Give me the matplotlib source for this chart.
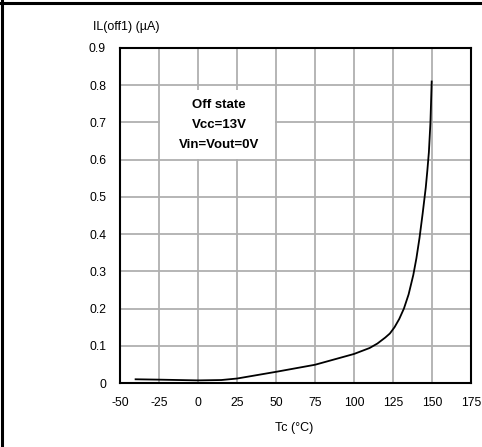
import matplotlib
matplotlib.use("Agg")
import matplotlib.pyplot as plt
from matplotlib.patches import Rectangle
from matplotlib.lines import Line2D

plt.rcParams['font.family'] = ['Liberation Sans', 'DejaVu Sans']
plt.rcParams['axes.unicode_minus'] = False

tc = [-40, -25, 0, 15, 25, 50, 75, 100, 110, 115, 120, 123, 126, 129, 132, 135, 138,
      140, 142, 144, 146, 147, 148, 149, 149.8]
il = [0.010, 0.009, 0.007, 0.008, 0.012, 0.030, 0.049, 0.078, 0.094, 0.106, 0.122, 0.133,
      0.150, 0.172, 0.200, 0.238, 0.290, 0.335, 0.390, 0.455, 0.525, 0.570, 0.620, 0.700, 0.810]
xticks = [-50, -25, 0, 25, 50, 75, 100, 125, 150, 175]
yticks = [0, 0.1, 0.2, 0.3, 0.4, 0.5, 0.6, 0.7, 0.8, 0.9]
ytick_labels = ["0", "0.1", "0.2", "0.3", "0.4", "0.5", "0.6", "0.7", "0.8", "0.9"]
annot = ["Off state", "Vcc=13V", "Vin=Vout=0V"]

W, H = 482, 447
fig = plt.figure(figsize=(W / 100, H / 100), dpi=100)
ax = fig.add_axes([120 / W, 1 - 383 / H, 351 / W, 335 / H])

ax.set_xlim(-50, 175)
ax.set_ylim(0, 0.9)
ax.set_xticks(xticks)
ax.set_yticks(yticks)
ax.set_yticklabels(ytick_labels)
ax.grid(True, color='#b0b0b0', lw=1.3)
ax.set_axisbelow(True)
ax.tick_params(length=0, labelsize=8.7, pad=10)
for s in ax.spines.values():
    s.set_linewidth(1.5)
    s.set_color('black')

ax.plot(tc, il, color='black', lw=1.3, zorder=3)

ax.add_patch(Rectangle((-24.4, 0.602), 73.8, 0.186, facecolor='white', edgecolor='none', zorder=2))
for i, t in enumerate(annot):
    ax.text(13.5, 0.747 - i * 0.054, t, ha='center', va='center', fontsize=9.5,
            fontweight='bold', zorder=4)

fig.text(93 / W, 1 - 27 / H, "IL(off1) (µA)", ha='left', va='center', fontsize=9)
fig.text(294 / W, 1 - 428 / H, "Tc (°C)", ha='center', va='center', fontsize=9)

# partial page frame: top and left edges only
fig.lines.append(Line2D([0, 1], [1 - 2.5 / H, 1 - 2.5 / H], transform=fig.transFigure,
                        color='black', lw=2.2))
fig.lines.append(Line2D([2 / W, 2 / W], [0, 1], transform=fig.transFigure,
                        color='black', lw=2.2))

fig.savefig("out.png", dpi=100)
